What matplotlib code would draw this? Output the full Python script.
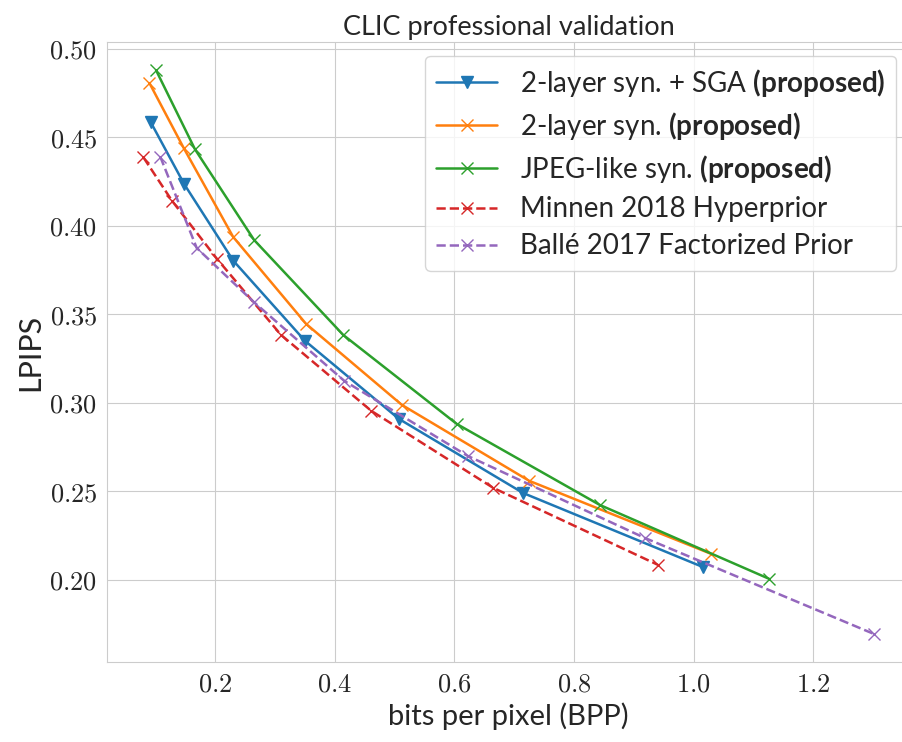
"""Rate-distortion curves (LPIPS vs BPP) on CLIC professional validation."""

import matplotlib
matplotlib.use("Agg")
import matplotlib.pyplot as plt
import seaborn as sns
from matplotlib.ticker import FuncFormatter

# bits per pixel / LPIPS
sga_bpp = [0.092, 0.148, 0.230, 0.350, 0.507, 0.715, 1.015]
sga_lpips = [0.4585, 0.4235, 0.3803, 0.3350, 0.2909, 0.2490, 0.2073]

two_layer_bpp = [0.090, 0.147, 0.230, 0.352, 0.512, 0.725, 1.029]
two_layer_lpips = [0.4805, 0.4440, 0.3936, 0.3445, 0.2988, 0.2559, 0.2147]

jpeg_bpp = [0.101, 0.166, 0.265, 0.414, 0.604, 0.843, 1.126]
jpeg_lpips = [0.4878, 0.4432, 0.3919, 0.3383, 0.2880, 0.2423, 0.2006]

minnen_bpp = [0.080, 0.128, 0.203, 0.310, 0.461, 0.665, 0.940]
minnen_lpips = [0.4385, 0.4139, 0.3812, 0.3383, 0.2954, 0.2519, 0.2085]

balle_bpp = [0.108, 0.169, 0.264, 0.416, 0.622, 0.918, 1.301]
balle_lpips = [0.4390, 0.3874, 0.3570, 0.3123, 0.2700, 0.2237, 0.1695]

sns.set_style("whitegrid")
plt.rcParams["font.family"] = ["Lato", "DejaVu Sans"]
plt.rcParams["mathtext.fontset"] = "cm"
plt.rcParams["mathtext.rm"] = "Lato"
plt.rcParams["mathtext.bf"] = "Lato:bold"

fig, ax = plt.subplots(figsize=(9.02, 7.42), dpi=100)
# the original is cropped a little on the right, so the axes runs past the edge
fig.subplots_adjust(left=0.1186, right=1.009, top=0.9434, bottom=0.1078)

lw = 1.8
ax.plot(sga_bpp, sga_lpips, "-v", color="#1f77b4", lw=lw, ms=9,
        label=r"2-layer syn. $+$ SGA $\mathbf{(proposed)}$")
ax.plot(two_layer_bpp, two_layer_lpips, "-x", color="#ff7f0e", lw=lw, ms=8,
        label=r"2-layer syn. $\mathbf{(proposed)}$")
ax.plot(jpeg_bpp, jpeg_lpips, "-x", color="#2ca02c", lw=lw, ms=8,
        label=r"JPEG-like syn. $\mathbf{(proposed)}$")
ax.plot(minnen_bpp, minnen_lpips, "--x", color="#d62728", lw=lw, ms=8,
        label="Minnen 2018 Hyperprior")
ax.plot(balle_bpp, balle_lpips, "--x", color="#9467bd", lw=lw, ms=8,
        label="Ballé 2017 Factorized Prior")

ax.xaxis.set_major_formatter(FuncFormatter(lambda v, _: f"${v:.1f}$"))
ax.yaxis.set_major_formatter(FuncFormatter(lambda v, _: f"${v:.2f}$"))
ax.tick_params(labelsize=19)

ax.set_xlabel("bits per pixel (BPP)", fontsize=21)
ax.set_ylabel("LPIPS", fontsize=22)
ax.set_title("CLIC professional validation", fontsize=19.5, pad=5)

leg = ax.legend(loc="upper right", fontsize=20, handlelength=2.2,
                framealpha=0.8, borderpad=0.4, labelspacing=0.4)
for t in leg.get_texts():
    t.set_math_fontfamily("custom")

fig.savefig("out.png", dpi=100, facecolor="white")
plt.close(fig)
